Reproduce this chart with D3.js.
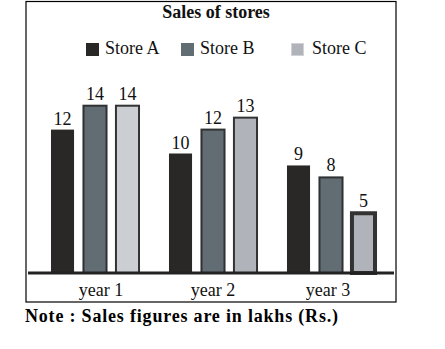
<!DOCTYPE html>
<html>
<head>
<meta charset="utf-8">
<script src="https://cdn.jsdelivr.net/npm/d3@7"></script>
<style>
  html, body { margin: 0; padding: 0; background: #fff; }
  svg { display: block; }
</style>
</head>
<body>
<script>
// Sales per store, in lakhs (Rs.)
const years = ["year 1", "year 2", "year 3"];
const stores = ["Store A", "Store B", "Store C"];
const storeA = [12, 10, 9];
const storeB = [14, 12, 8];
const storeC = [14, 13, 5];
const title = "Sales of stores";
const note = "Note : Sales figures are in lakhs (Rs.)";

const W = 445, H = 349;
const FONT = "Liberation Serif";
const svg = d3.select("body").append("svg").attr("width", W).attr("height", H)
  .attr("font-family", FONT);

const series = [storeA, storeB, storeC];
const rows = years.map((y, i) => ({ year: y, i, values: stores.map((s, j) => ({ store: s, j, i, v: series[j][i] })) }));

const fills = ["#2a2826", "#616c73", "#b0b3b9"];
const strokes = ["#2a2826", "#2f3133", "#333333"];

// frame
svg.append("rect").attr("x", 26).attr("y", 1.5).attr("width", 370).attr("height", 300.5)
  .attr("fill", "none").attr("stroke", "#000").attr("stroke-width", 1.2);

const x0 = d3.scaleBand().domain(years).range([36, 390]).paddingInner(0.254).paddingOuter(0.127);
const x1 = d3.scaleBand().domain(stores).range([0, x0.bandwidth()]).paddingInner(0.29).paddingOuter(0);
const y = d3.scaleLinear().domain([0, 14]).range([273, 273 - 14 * 11.95]);

// title
svg.append("text").attr("x", 216).attr("y", 18).attr("text-anchor", "middle")
  .attr("font-size", 18).attr("font-weight", "bold").attr("fill", "#111").text(title);

// legend
const legendX = [86, 181, 291];
const legend = svg.append("g").selectAll("g").data(stores).join("g")
  .attr("transform", (d, j) => `translate(${legendX[j]},0)`);
legend.append("rect").attr("x", 0.5).attr("y", 43.5).attr("width", 12).attr("height", 12)
  .attr("fill", (d, j) => fills[j])
  .attr("stroke", (d, j) => j === 2 ? "#d0d2d6" : fills[j]).attr("stroke-width", 1);
legend.append("text").attr("x", (d, j) => j === 2 ? 21 : 19).attr("y", 54)
  .attr("font-size", 18).attr("fill", "#111").text(d => d);

// bars
const groups = svg.append("g").selectAll("g").data(rows).join("g")
  .attr("transform", d => `translate(${x0(d.year)},0)`);

groups.selectAll("rect").data(d => d.values).join("rect")
  .attr("x", d => x1(d.store))
  .attr("y", d => y(d.v))
  .attr("width", x1.bandwidth())
  .attr("height", d => y(0) - y(d.v))
  .attr("fill", d => (d.j === 2 && d.i === 0) ? "#cbced2" : fills[d.j])
  .attr("stroke", d => strokes[d.j])
  .attr("stroke-width", d => d.j === 0 ? 0 : (d.j === 2 && d.i === 2 ? 4 : 2));

groups.selectAll("text.val").data(d => d.values).join("text")
  .attr("class", "val")
  .attr("x", d => x1(d.store) + x1.bandwidth() / 2)
  .attr("y", d => y(d.v) - (d.j === 0 ? 5 : 6))
  .attr("text-anchor", "middle").attr("font-size", 18).attr("fill", "#111")
  .text(d => d.v);

// baseline
svg.append("line").attr("x1", 28).attr("x2", 394).attr("y1", y(0)).attr("y2", y(0))
  .attr("stroke", "#222").attr("stroke-width", 3);

// category labels, nudged slightly off the group centres
const labelNudge = [6, 0, -3];
const xAxis = d3.axisBottom(x0).tickSize(0).tickPadding(0);
const ax = svg.append("g").attr("transform", `translate(0,${y(0)})`).call(xAxis)
  .attr("font-family", FONT).attr("font-size", 18);
ax.select(".domain").remove();
ax.selectAll("text").attr("dy", null).attr("y", 23).attr("fill", "#111")
  .attr("dx", (d, i) => labelNudge[i]);

// note
svg.append("text").attr("x", 25).attr("y", 322).attr("font-size", 18).attr("font-weight", "bold")
  .attr("fill", "#000").attr("textLength", 313).attr("lengthAdjust", "spacing").text(note);
</script>
</body>
</html>
